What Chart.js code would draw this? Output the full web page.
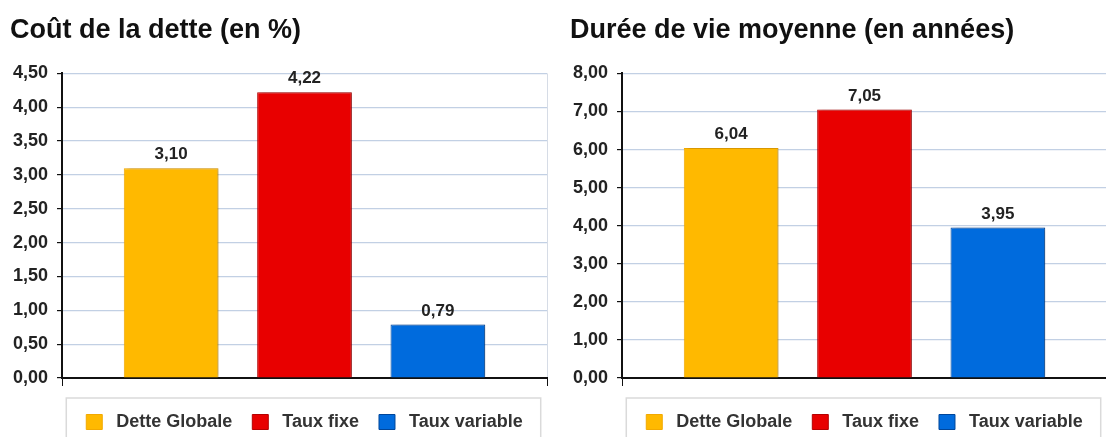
<!DOCTYPE html>
<html lang="fr">
<head>
<meta charset="utf-8">
<title>Coût de la dette / Durée de vie moyenne</title>
<script src="https://cdn.jsdelivr.net/npm/chart.js@4.4.1/dist/chart.umd.min.js"></script>
<style>
  html, body { margin: 0; padding: 0; background: #fff; overflow: hidden; }
  .bloc { position: absolute; top: 0; width: 560px; height: 441px; }
  #bloc-cout { left: 0; }
  #bloc-duree { left: 560px; }
</style>
</head>
<body>
<div class="bloc" id="bloc-cout"><canvas id="graphique-cout"></canvas></div>
<div class="bloc" id="bloc-duree"><canvas id="graphique-duree"></canvas></div>
<script>
const categories = ["Dette Globale", "Taux fixe", "Taux variable"];
const coutDette = [3.10, 4.22, 0.79];
const dureeVie = [6.04, 7.05, 3.95];
const coutEchelle = [0, 4.5, 0.5];   // min, max, pas
const dureeEchelle = [0, 8, 1];

const couleurs = ["#FFB900", "#E80000", "#006BDD"];
const bordures = ["#F2A900", "#B50000", "#00469A"];
const police = "'Liberation Sans', Arial, sans-serif";

function enVirgule(v) {
  return Number(v).toFixed(2).replace(".", ",");
}

// ombre légère sous les barres + valeurs au-dessus
const valeursPlugin = {
  id: "valeurs",
  beforeDatasetsDraw(chart) {
    const ctx = chart.ctx;
    ctx.save();
    ctx.shadowColor = "rgba(0,0,0,0.25)";
    ctx.shadowBlur = 4;
    ctx.shadowOffsetX = 3;
    ctx.shadowOffsetY = 0;
  },
  afterDatasetsDraw(chart) {
    const ctx = chart.ctx;
    ctx.restore();
    ctx.save();
    ctx.font = "bold 17px " + police;
    ctx.fillStyle = "#222";
    ctx.textAlign = "center";
    ctx.textBaseline = "alphabetic";
    chart.data.datasets.forEach((ds, i) => {
      const meta = chart.getDatasetMeta(i);
      meta.data.forEach((bar, j) => {
        ctx.fillText(enVirgule(ds.data[j]), bar.x, bar.y - 9);
      });
    });
    ctx.restore();
  }
};

// cadre autour de la légende
const cadreLegende = {
  id: "cadreLegende",
  afterDraw(chart) {
    const boites = chart.legend.legendHitBoxes;
    if (!boites || !boites.length) return;
    const ctx = chart.ctx;
    const gauche = boites[0].left - 20;
    const droite = boites[boites.length - 1].left + boites[boites.length - 1].width + 18;
    const haut = boites[0].top - 15;
    ctx.save();
    ctx.strokeStyle = "#dadada";
    ctx.lineWidth = 1.5;
    ctx.strokeRect(gauche, haut, droite - gauche, 80);
    ctx.restore();
  }
};

function creerGraphique(selecteur, titre, valeurs, echelle) {
  const datasets = categories.map((nom, i) => ({
    label: nom,
    data: [valeurs[i]],
    backgroundColor: couleurs[i],
    borderColor: bordures[i],
    borderWidth: 1,
    categoryPercentage: 0.825,
    barPercentage: 0.71
  }));

  const config = {
    type: "bar",
    data: { labels: [""], datasets: datasets },
    options: {
      responsive: true,
      maintainAspectRatio: false,
      animation: false,
      layout: { padding: { top: 0, left: 10, right: 13, bottom: 0 } },
      plugins: {
        title: {
          display: true,
          text: titre,
          align: "start",
          color: "#111",
          font: { family: police, size: 27, weight: "bold" },
          padding: { top: 14, bottom: 27 }
        },
        legend: {
          position: "bottom",
          fullSize: false,
          labels: {
            boxWidth: 16,
            boxHeight: 15,
            padding: 20,
            color: "#333",
            font: { family: police, size: 18, weight: "bold" },
            generateLabels(chart) {
              return Chart.defaults.plugins.legend.labels.generateLabels(chart)
                .map(item => Object.assign(item, { text: " " + item.text, lineWidth: 1 }));
            }
          }
        },
        tooltip: { enabled: false }
      },
      scales: {
        x: {
          grid: {
            color: "#d6dce6",
            tickColor: "#111",
            tickLength: 8,
            lineWidth: 1
          },
          border: { color: "#111", width: 2 },
          ticks: { display: false },
          afterFit(scale) { scale.height += 7; }
        },
        y: {
          min: echelle[0],
          max: echelle[1],
          grid: {
            color: "#c2d0e4",
            tickColor: "#111",
            tickLength: 5,
            lineWidth: 1.2
          },
          border: { color: "#111", width: 2 },
          ticks: {
            stepSize: echelle[2],
            color: "#222",
            padding: 9,
            font: { family: police, size: 18, weight: "bold" },
            callback: v => enVirgule(v)
          },
          afterFit(scale) { scale.width = 52; }
        }
      }
    },
    plugins: [valeursPlugin, cadreLegende]
  };

  return new Chart(document.querySelector(selecteur), config);
}

creerGraphique("#graphique-cout", "Coût de la dette (en %)", coutDette, coutEchelle);
creerGraphique("#graphique-duree", "Durée de vie moyenne (en années)", dureeVie, dureeEchelle);
</script>
</body>
</html>
